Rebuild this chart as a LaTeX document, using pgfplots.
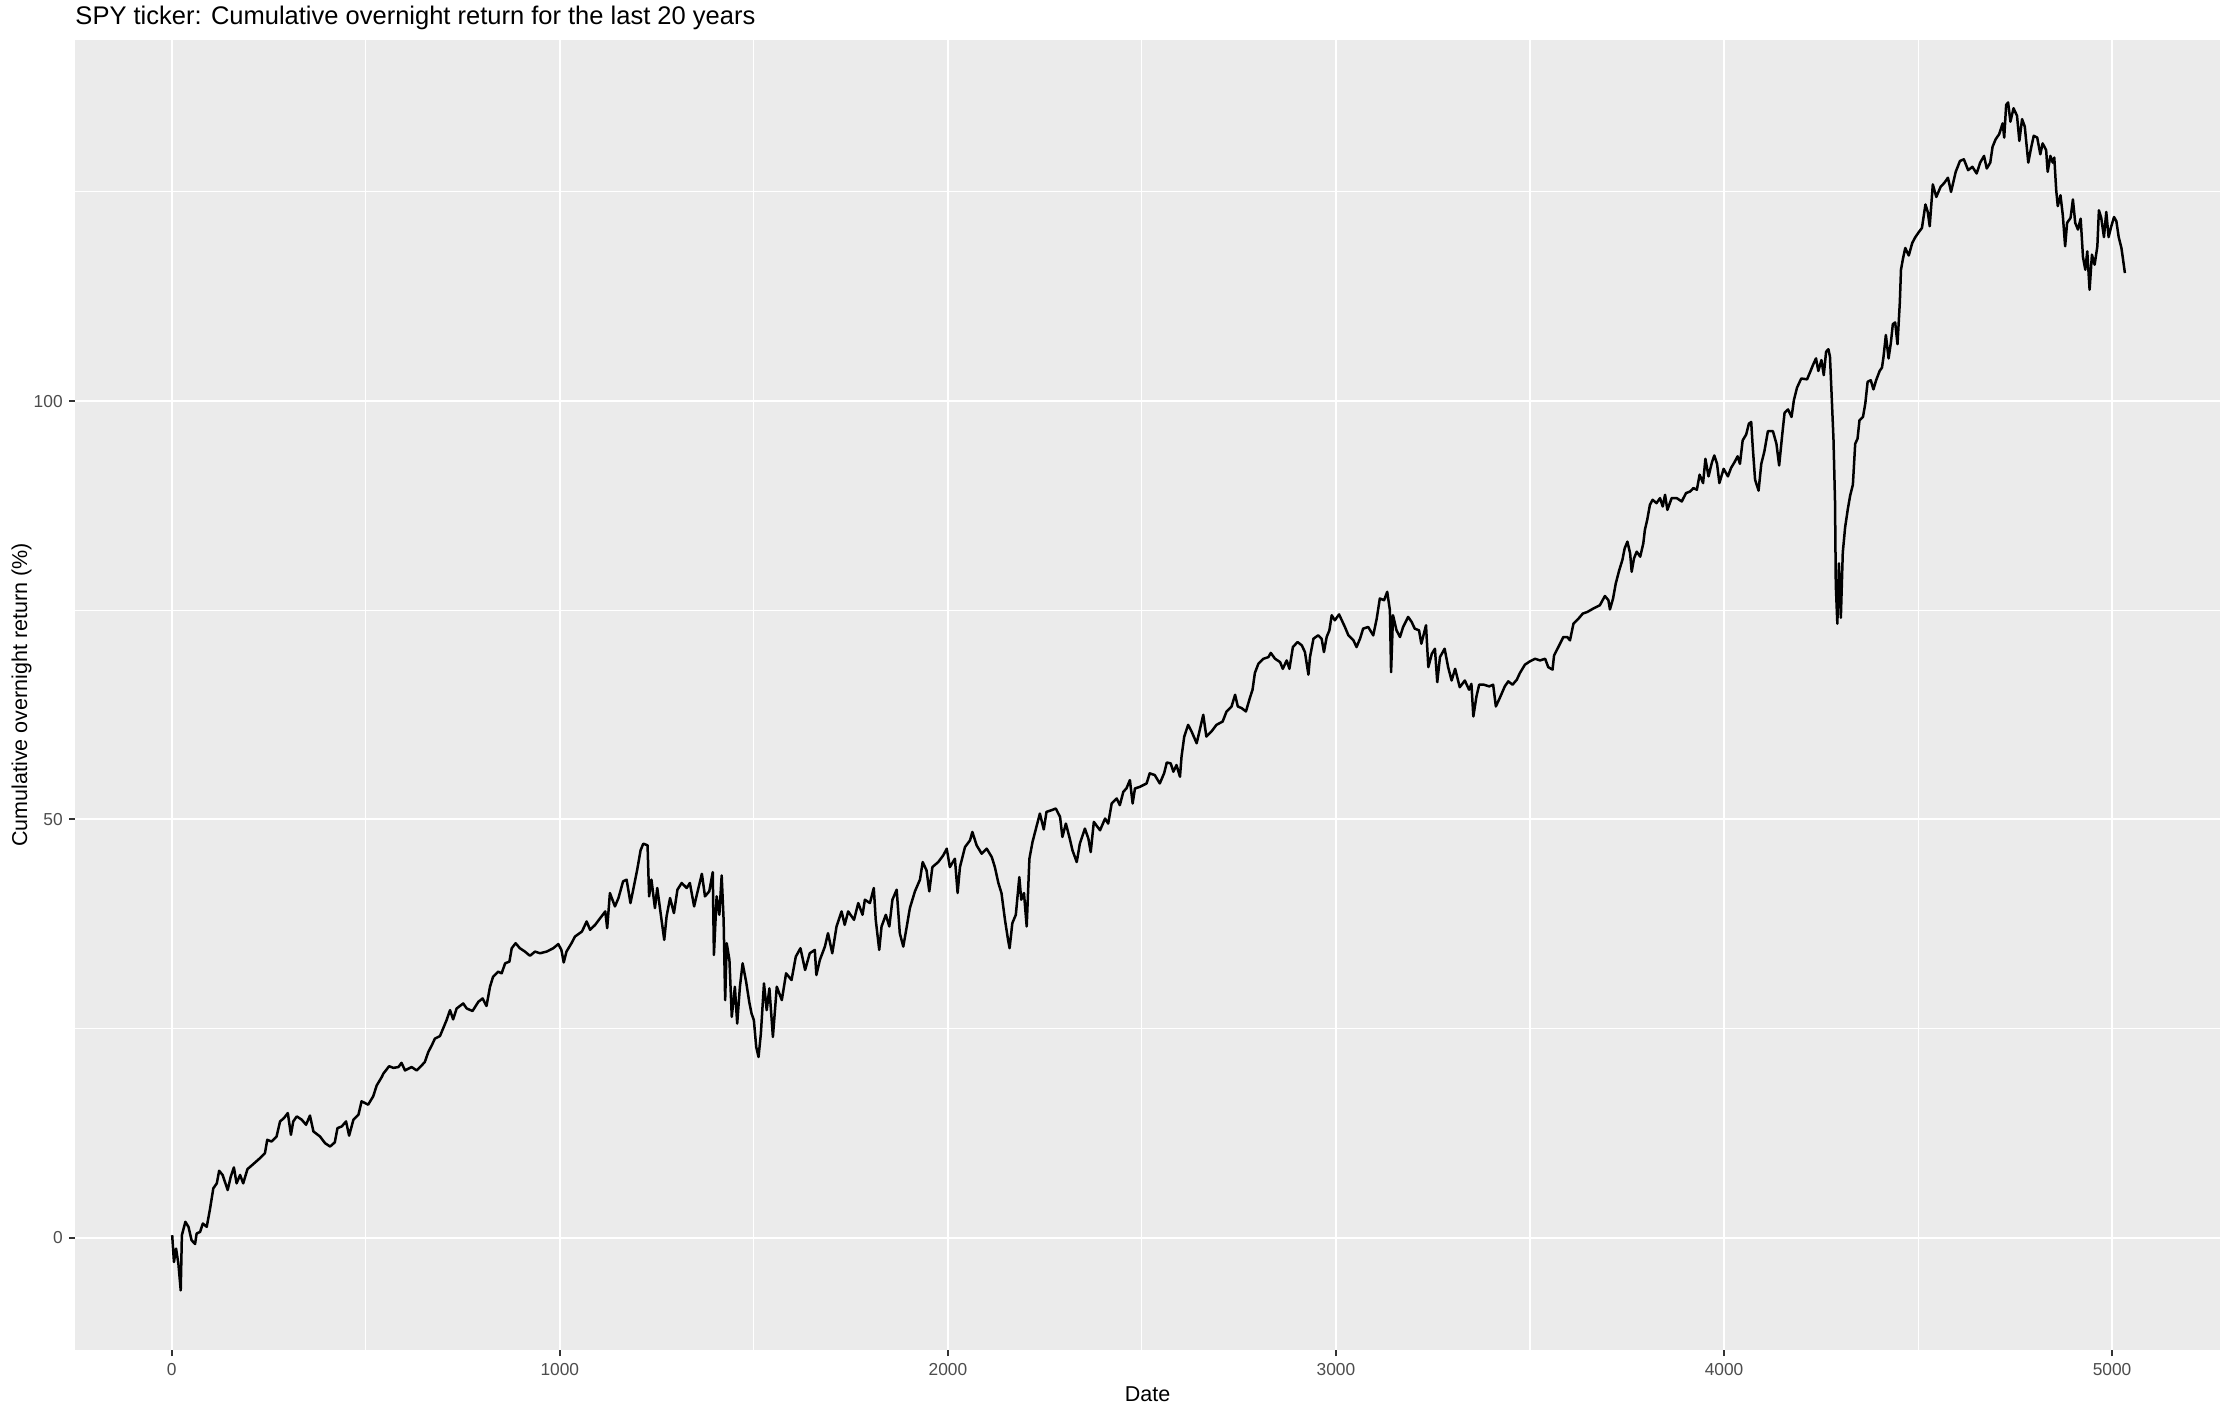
\documentclass[border=0pt]{standalone}
\usepackage{pgfplots}
\pgfplotsset{compat=1.18}
\usepackage{pgfplotstable}
\usepackage{fontspec}
\setmainfont{Liberation Sans}
\definecolor{ggbg}{HTML}{EBEBEB}
\definecolor{grey30}{HTML}{4D4D4D}
\definecolor{grey20}{HTML}{333333}
\pgfplotstableread{
x y
1 0.3
5.6 -2.9
11 -1.3
17 -3.1
23 -6.3
26 0.3
35 1.9
43 1.3
51 -0.3
60 -0.75
64 0.5
73 0.7
80 1.7
90 1.3
98 3.3
107 5.9
116 6.5
122 8.0
131 7.5
144 5.7
152 7.3
160 8.4
167 6.5
176 7.5
184 6.5
195 8.2
210 8.8
227 9.5
240 10.1
246 11.7
257 11.5
270 12.1
279 13.9
289 14.3
299 14.9
307 12.3
313 13.9
322 14.5
335 14.1
346 13.5
356 14.6
365 12.7
382 12.1
395 11.3
408 10.9
420 11.4
427 13.1
438 13.3
449 13.9
457 12.2
468 14.1
481 14.7
489 16.3
498 16.1
506 15.9
519 16.9
528 18.2
541 19.2
545 19.6
560 20.5
571 20.3
584 20.4
592 20.9
601 20.0
618 20.4
631 20.0
640 20.4
652 21.0
661 22.2
670 23.0
678 23.8
691 24.1
700 25.1
708 26.0
717 27.2
725 26.1
734 27.4
751 28.0
760 27.4
775 27.1
790 28.2
801 28.6
811 27.7
820 30.0
828 31.2
841 31.8
850 31.6
859 32.8
870 33.0
876 34.6
886 35.2
897 34.6
910 34.2
923 33.7
936 34.2
949 34.0
966 34.2
983 34.6
996 35.1
1004 34.4
1010 32.9
1017 34.2
1030 35.2
1039 36.0
1057 36.6
1069 37.8
1078 36.8
1091 37.4
1104 38.2
1117 39.0
1122 37.0
1129 41.2
1142 39.6
1151 40.6
1163 42.6
1172 42.8
1182 40.0
1189 41.6
1199 43.9
1208 46.3
1215 47.1
1226 46.9
1230 40.8
1236 42.8
1245 39.4
1251 41.8
1262 38.0
1269 35.6
1275 38.4
1284 40.6
1294 38.8
1303 41.6
1314 42.4
1327 41.8
1335 42.4
1346 39.6
1353 41.0
1366 43.5
1374 40.8
1385 41.4
1394 43.7
1397 33.8
1404 40.8
1411 38.6
1417 43.3
1422 38.0
1426 28.4
1430 35.2
1437 33.2
1443 26.4
1451 30.0
1457 25.6
1464 30.0
1471 32.8
1480 30.6
1488 28.2
1494 26.8
1500 26.0
1506 22.8
1512 21.6
1518 24.4
1526 30.4
1533 27.2
1540 29.8
1549 24.0
1559 30.0
1572 28.4
1583 31.6
1597 30.8
1608 33.6
1620 34.6
1632 32.0
1644 34.0
1657 34.4
1661 31.4
1670 33.2
1683 34.8
1691 36.4
1702 34.0
1713 37.2
1726 39.0
1734 37.4
1743 39.0
1758 38.0
1769 40.0
1780 38.6
1786 40.4
1799 40.0
1809 41.8
1814 38.0
1823 34.4
1829 37.2
1840 38.6
1849 37.2
1857 40.4
1868 41.6
1876 36.4
1885 34.8
1894 37.2
1902 39.4
1915 41.4
1928 42.8
1935 44.9
1945 43.9
1952 41.4
1960 44.3
1975 44.9
1988 45.7
1997 46.5
2005 44.3
2018 45.3
2025 41.2
2031 44.3
2044 46.7
2057 47.5
2063 48.5
2074 46.9
2087 45.9
2100 46.5
2113 45.5
2121 44.3
2130 42.4
2138 41.2
2147 38.0
2155 35.6
2159 34.6
2166 37.6
2175 38.6
2184 43.1
2189 40.4
2196 41.2
2203 37.2
2210 45.3
2218 47.3
2228 49.1
2237 50.7
2247 48.8
2254 50.9
2267 51.1
2278 51.3
2289 50.3
2295 47.9
2304 49.5
2314 47.7
2321 46.3
2332 44.9
2340 47.1
2353 48.9
2362 47.7
2368 46.1
2376 49.7
2392 48.7
2405 50.1
2413 49.5
2422 51.9
2435 52.5
2443 51.7
2452 53.3
2460 53.7
2469 54.7
2476 51.9
2482 53.7
2495 53.9
2512 54.3
2520 55.5
2533 55.3
2546 54.3
2557 55.5
2564 56.8
2574 56.7
2581 55.7
2589 56.5
2598 55.1
2602 57.5
2609 59.9
2619 61.3
2628 60.5
2641 59.1
2648 60.5
2658 62.5
2666 59.9
2679 60.5
2692 61.3
2708 61.7
2718 62.9
2731 63.5
2740 64.9
2747 63.5
2757 63.3
2768 62.9
2778 64.5
2785 65.5
2791 67.5
2800 68.6
2813 69.2
2826 69.4
2832 69.9
2843 69.2
2856 68.8
2863 68.0
2873 69.0
2880 68.0
2889 70.6
2901 71.2
2912 70.8
2920 70.0
2929 67.3
2933 69.4
2942 71.6
2954 72.0
2963 71.6
2969 70.0
2976 71.8
2983 72.6
2989 74.4
2997 73.8
3008 74.5
3023 73.0
3032 72.0
3045 71.4
3053 70.6
3062 71.6
3070 72.8
3083 73.0
3096 72.0
3105 74.0
3113 76.4
3124 76.2
3132 77.2
3139 75.0
3142 67.6
3147 74.4
3156 72.6
3165 71.8
3173 73.0
3186 74.2
3195 73.6
3203 72.8
3214 72.6
3220 71.0
3232 73.2
3238 68.2
3247 69.8
3255 70.4
3261 66.4
3268 69.4
3280 70.4
3289 68.2
3298 66.6
3307 68.0
3319 65.8
3332 66.6
3343 65.5
3349 66.2
3354 62.3
3362 64.7
3369 66.1
3381 66.1
3395 65.9
3405 66.1
3412 63.5
3422 64.5
3435 65.9
3444 66.5
3455 66.1
3466 66.7
3474 67.5
3487 68.5
3500 68.9
3513 69.2
3526 69.0
3539 69.2
3547 68.2
3558 67.9
3562 69.6
3573 70.6
3586 71.8
3596 71.8
3603 71.4
3612 73.4
3625 74.0
3636 74.6
3648 74.8
3663 75.2
3680 75.6
3693 76.7
3702 76.2
3706 75.1
3714 76.4
3721 78.2
3730 79.8
3738 81.0
3744 82.4
3751 83.2
3758 81.8
3762 79.6
3768 81.2
3775 82.0
3784 81.4
3792 83.0
3796 84.6
3802 85.8
3809 87.6
3816 88.2
3826 87.8
3835 88.4
3842 87.4
3848 88.8
3854 87.0
3865 88.4
3878 88.4
3891 88.0
3902 89.0
3913 89.2
3921 89.6
3930 89.4
3937 91.2
3946 90.2
3952 93.1
3960 91.0
3969 92.7
3975 93.5
3982 92.5
3988 90.2
3999 91.9
4010 91.0
4018 92.0
4027 92.7
4035 93.4
4041 92.5
4048 95.3
4057 96.0
4064 97.3
4070 97.5
4074 94.5
4080 90.6
4089 89.3
4096 92.5
4104 94.0
4113 96.4
4126 96.4
4135 94.9
4142 92.3
4150 96.0
4156 98.6
4165 99.0
4174 98.1
4180 100.1
4188 101.6
4199 102.7
4214 102.6
4223 103.6
4230 104.4
4237 105.1
4243 103.6
4251 104.9
4257 103.1
4263 105.9
4269 106.2
4273 105.3
4277 101.0
4282 95.5
4286 88.0
4288 78.0
4292 73.4
4296 80.6
4301 74.1
4306 81.9
4312 84.9
4319 87.1
4325 88.7
4332 90.0
4338 94.9
4344 95.5
4349 97.7
4358 98.1
4364 99.7
4370 102.3
4378 102.5
4385 101.4
4392 102.5
4401 103.6
4407 104.0
4411 105.3
4417 107.9
4424 105.1
4430 107.0
4435 109.2
4441 109.4
4447 106.8
4453 111.8
4456 115.7
4461 117.0
4467 118.3
4476 117.4
4485 118.9
4493 119.6
4502 120.2
4510 120.7
4519 123.5
4525 122.6
4530 120.9
4538 125.9
4547 124.4
4558 125.6
4568 126.1
4577 126.7
4585 125.0
4597 127.4
4608 128.7
4618 128.9
4629 127.6
4640 128.0
4651 127.2
4660 128.5
4670 129.3
4677 127.8
4686 128.5
4692 130.4
4700 131.3
4709 131.9
4718 133.2
4722 131.5
4727 135.4
4732 135.7
4738 133.4
4746 135.0
4755 134.1
4761 131.1
4768 133.7
4775 132.8
4784 128.5
4791 130.2
4798 131.7
4807 131.5
4815 129.5
4821 130.8
4830 130.0
4834 127.4
4841 129.3
4847 128.5
4851 129.1
4856 125.2
4860 123.3
4867 124.6
4873 122.2
4879 118.5
4884 121.3
4893 121.9
4899 124.1
4905 121.3
4912 120.5
4919 121.8
4925 117.2
4931 115.7
4936 117.9
4942 113.3
4948 117.5
4955 116.3
4962 118.5
4966 122.8
4972 121.9
4979 119.6
4985 122.6
4991 119.6
4998 120.9
5005 122.0
5011 121.5
5017 119.6
5024 118.3
5028 117.0
5033 115.3
}\spy
\begin{document}
\begin{tikzpicture}
\path[use as bounding box, fill=white] (0,0) rectangle (1342.8pt,843pt);
\begin{axis}[
  at={(45.1pt,33pt)}, anchor=south west,
  scale only axis, width=1286.9pt, height=786pt,
  xmin=-249, xmax=5278, ymin=-13.42, ymax=143.16,
  xtick={0,1000,2000,3000,4000,5000},
  ytick={0,50,100},
  minor xtick={500,1500,2500,3500,4500},
  minor ytick={25,75,125},
  grid=both,
  major grid style={white, line width=1.25pt},
  minor grid style={white, line width=0.62pt},
  axis background/.style={fill=ggbg},
  axis line style={draw=none},
  tick align=outside, tick pos=left,
  major tick length=3.6pt, minor tick length=0pt,
  major tick style={color=grey20, line width=1.2pt},
  minor tick style={draw=none},
  scaled ticks=false,
  /pgf/number format/assume math mode=true,
  /pgf/number format/1000 sep={},
  ticklabel style={font=\fontsize{10.4}{12}\selectfont, text=grey30, inner sep=0pt},
  xticklabel style={anchor=base, yshift=-11.4pt},
  yticklabel style={anchor=base east, xshift=-3.7pt, yshift=-3.7pt},
  xlabel={Date}, ylabel={Cumulative overnight return (\%)},
  label style={font=\fontsize{12.9}{15}\selectfont, inner sep=0pt},
  xlabel style={at={(axis description cs:0.5,-0.03919)}, anchor=base},
  ylabel style={at={(axis description cs:-0.02238,0.5)}, anchor=base},
  every axis title shift=0pt,
  title={SPY ticker: Cumulative overnight return for the last 20 years},
  title style={at={(axis description cs:0,1.01145)}, anchor=base west, inner sep=0pt, font=\fontsize{15.3}{18}\selectfont},
]
\addplot[black, line width=1.5pt, line join=round, no markers] table[x=x,y=y] {\spy};
\end{axis}
\end{tikzpicture}
\end{document}
